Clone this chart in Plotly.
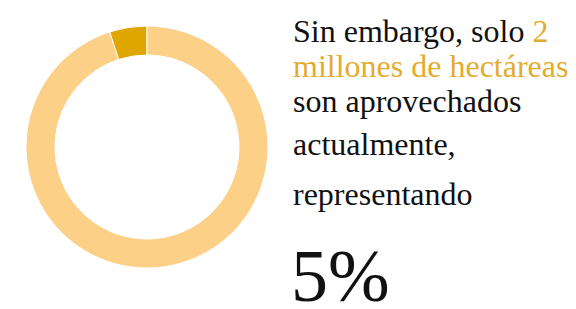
import plotly.graph_objects as go

# Data
labels = ["Aprovechados", "No aprovechados"]
values = [5, 95]
slice_colors = ["#E0A600", "#FDD088"]

text_lines = [
    "Sin embargo, solo <span style='color:#E3AC2E'>2</span>",
    "<span style='color:#E3AC2E'>millones de hectáreas</span>",
    "son aprovechados",
    "actualmente,",
    "representando",
]
big_value = "5%"

W, H = 576, 309
fig = go.Figure()
fig.add_trace(go.Pie(
    labels=labels, values=values, hole=0.76, sort=False,
    direction="counterclockwise", rotation=-18,
    marker=dict(colors=slice_colors, line=dict(color="white", width=1)),
    textinfo="none", hoverinfo="label+percent", showlegend=False,
    domain=dict(x=[26 / W, 268 / W], y=[(H - 268) / H, (H - 26) / H]),
))

font_family = "Liberation Serif, Times New Roman, serif"
centers = [31, 66, 101, 144, 194]
for txt, yc in zip(text_lines, centers):
    fig.add_annotation(
        text=txt, x=291 / W, y=(H - yc) / H, xref="paper", yref="paper",
        xanchor="left", yanchor="middle", showarrow=False, align="left",
        font=dict(family=font_family, size=32, color="#111111"),
    )
fig.add_annotation(
    text=big_value, x=289 / W, y=(H - 276) / H, xref="paper", yref="paper",
    xanchor="left", yanchor="middle", showarrow=False, align="left",
    font=dict(family=font_family, size=74, color="#111111"),
)

fig.update_layout(
    width=W, height=H, margin=dict(l=0, r=0, t=0, b=0),
    paper_bgcolor="white", plot_bgcolor="white",
)
fig.write_html("out.html", config={"displayModeBar": False},
               post_script="document.body.style.margin='0';")
